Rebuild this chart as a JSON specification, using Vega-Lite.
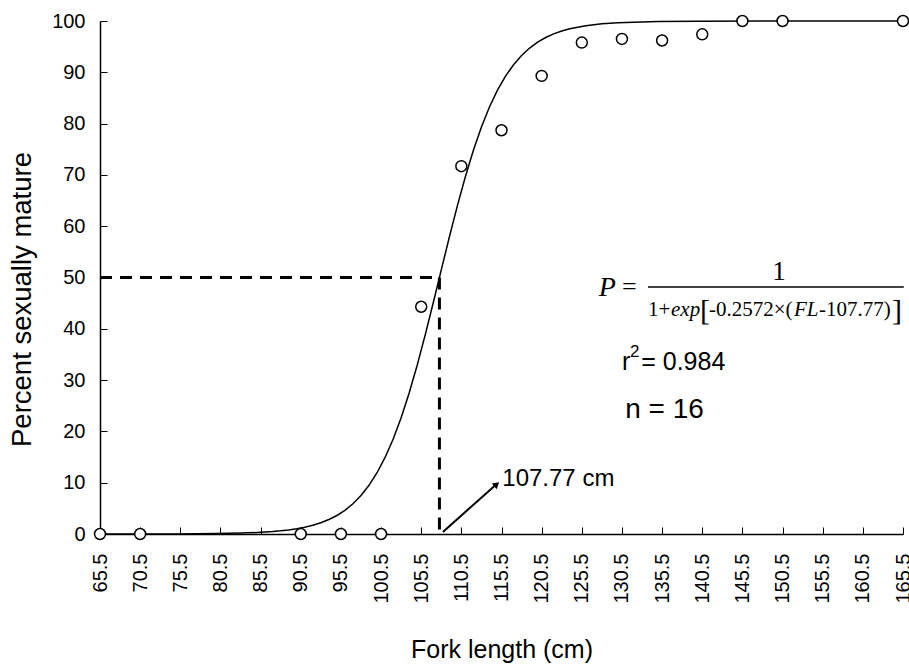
{
  "$schema": "https://vega.github.io/schema/vega-lite/v6.json",
  "autosize": "none",
  "width": 803,
  "height": 513,
  "padding": {"left": 100, "top": 21, "right": 6, "bottom": 131},
  "background": "white",
  "config": {
    "view": {"stroke": null},
    "font": "Liberation Sans",
    "axis": {
      "grid": false,
      "domainColor": "black",
      "domainWidth": 1.5,
      "tickColor": "black",
      "tickWidth": 1,
      "labelColor": "black",
      "titleColor": "black",
      "labelFont": "Liberation Sans",
      "titleFont": "Liberation Sans",
      "titleFontWeight": "normal"
    }
  },
  "datasets": {
    "obs": [
      {"fl": 65.5, "pct": 0},
      {"fl": 70.5, "pct": 0},
      {"fl": 90.5, "pct": 0},
      {"fl": 95.5, "pct": 0},
      {"fl": 100.5, "pct": 0},
      {"fl": 105.5, "pct": 44.3},
      {"fl": 110.5, "pct": 71.7},
      {"fl": 115.5, "pct": 78.7},
      {"fl": 120.5, "pct": 89.3},
      {"fl": 125.5, "pct": 95.8},
      {"fl": 130.5, "pct": 96.5},
      {"fl": 135.5, "pct": 96.2},
      {"fl": 140.5, "pct": 97.4},
      {"fl": 145.5, "pct": 100},
      {"fl": 150.5, "pct": 100},
      {"fl": 165.5, "pct": 100}
    ],
    "curve": [
      {"fl": 65.5, "pct": 0.0},
      {"fl": 70, "pct": 0.006},
      {"fl": 75, "pct": 0.022},
      {"fl": 80, "pct": 0.079},
      {"fl": 83, "pct": 0.171},
      {"fl": 85, "pct": 0.286},
      {"fl": 87, "pct": 0.476},
      {"fl": 88, "pct": 0.615},
      {"fl": 89, "pct": 0.794},
      {"fl": 90, "pct": 1.025},
      {"fl": 91, "pct": 1.32},
      {"fl": 92, "pct": 1.70},
      {"fl": 93, "pct": 2.19},
      {"fl": 94, "pct": 2.82},
      {"fl": 95, "pct": 3.61},
      {"fl": 96, "pct": 4.62},
      {"fl": 97, "pct": 5.90},
      {"fl": 98, "pct": 7.50},
      {"fl": 99, "pct": 9.49},
      {"fl": 100, "pct": 11.94},
      {"fl": 101, "pct": 14.92},
      {"fl": 102, "pct": 18.48},
      {"fl": 103, "pct": 22.67},
      {"fl": 104, "pct": 27.50},
      {"fl": 105, "pct": 32.90},
      {"fl": 106, "pct": 38.81},
      {"fl": 107, "pct": 45.07},
      {"fl": 108, "pct": 51.48},
      {"fl": 109, "pct": 57.84},
      {"fl": 110, "pct": 63.96},
      {"fl": 111, "pct": 69.65},
      {"fl": 112, "pct": 74.80},
      {"fl": 113, "pct": 79.33},
      {"fl": 114, "pct": 83.24},
      {"fl": 115, "pct": 86.53},
      {"fl": 116, "pct": 89.25},
      {"fl": 117, "pct": 91.48},
      {"fl": 118, "pct": 93.28},
      {"fl": 119, "pct": 94.73},
      {"fl": 120, "pct": 95.87},
      {"fl": 121, "pct": 96.78},
      {"fl": 122, "pct": 97.49},
      {"fl": 123, "pct": 98.05},
      {"fl": 124, "pct": 98.48},
      {"fl": 126, "pct": 99.09},
      {"fl": 128, "pct": 99.45},
      {"fl": 130, "pct": 99.67},
      {"fl": 135, "pct": 99.91},
      {"fl": 140, "pct": 99.97},
      {"fl": 150, "pct": 100.0},
      {"fl": 165.5, "pct": 100.0}
    ]
  },
  "encoding": {
    "x": {
      "type": "quantitative",
      "scale": {"domain": [65.5, 165.5], "nice": false, "zero": false},
      "axis": {
        "title": "Fork length (cm)",
        "values": [65.5, 70.5, 75.5, 80.5, 85.5, 90.5, 95.5, 100.5, 105.5, 110.5, 115.5, 120.5, 125.5, 130.5, 135.5, 140.5, 145.5, 150.5, 155.5, 160.5, 165.5],
        "format": ".1f",
        "labelAngle": -90,
        "labelFontSize": 20,
        "labelPadding": 26,
        "tickSize": -7,
        "labelFlush": false,
        "labelOverlap": false,
        "titleFontSize": 25,
        "titleY": 123,
        "titleBaseline": "alphabetic"
      }
    },
    "y": {
      "type": "quantitative",
      "scale": {"domain": [0, 100], "nice": false},
      "axis": {
        "title": "Percent sexually mature",
        "values": [0, 10, 20, 30, 40, 50, 60, 70, 80, 90, 100],
        "format": "d",
        "labelFontSize": 20,
        "labelPadding": 22,
        "tickSize": -7,
        "labelFlush": false,
        "labelOverlap": false,
        "titleFontSize": 27.5,
        "titleX": -70,
        "titleY": 278,
        "titleAngle": 270,
        "titleBaseline": "alphabetic"
      }
    }
  },
  "layer": [
    {
      "data": {"name": "curve"},
      "mark": {"type": "line", "color": "black", "strokeWidth": 1.5, "clip": false},
      "encoding": {"x": {"field": "fl"}, "y": {"field": "pct"}}
    },
    {
      "data": {"values": [{}]},
      "mark": {"type": "rule", "color": "black", "strokeWidth": 3, "strokeDash": [12, 8]},
      "encoding": {"x": {"datum": 65.5}, "x2": {"datum": 107.77}, "y": {"datum": 50}}
    },
    {
      "data": {"values": [{}]},
      "mark": {"type": "rule", "color": "black", "strokeWidth": 3, "strokeDash": [12, 8]},
      "encoding": {"x": {"datum": 107.77}, "y": {"datum": 50}, "y2": {"datum": 0}}
    },
    {
      "data": {"values": [{}]},
      "mark": {"type": "rule", "color": "black", "strokeWidth": 2},
      "encoding": {"x": {"datum": 108.2}, "y": {"datum": 0.4}, "x2": {"datum": 114.8}, "y2": {"datum": 9.6}}
    },
    {
      "data": {"values": [{}]},
      "mark": {"type": "point", "shape": "triangle-up", "filled": true, "color": "black", "size": 55, "angle": 49, "opacity": 1},
      "encoding": {"x": {"datum": 114.9}, "y": {"datum": 9.7}}
    },
    {
      "data": {"values": [{}]},
      "mark": {"type": "rule", "color": "black", "strokeWidth": 1.3},
      "encoding": {"x": {"datum": 133.75}, "x2": {"datum": 165.6}, "y": {"datum": 48.15}}
    },
    {
      "data": {"name": "obs"},
      "mark": {"type": "point", "shape": "circle", "filled": true, "fill": "white", "stroke": "black", "strokeWidth": 1.5, "size": 120, "opacity": 1, "clip": false},
      "encoding": {"x": {"field": "fl"}, "y": {"field": "pct"}}
    },
    {
      "data": {"values": [{}]},
      "mark": {"type": "text", "text": "107.77 cm", "font": "Liberation Sans", "fontSize": 24, "align": "left", "baseline": "alphabetic"},
      "encoding": {"x": {"datum": 115.6}, "y": {"datum": 9.4}}
    },
    {
      "data": {"values": [{}]},
      "mark": {"type": "text", "text": "P", "font": "Liberation Serif", "fontStyle": "italic", "fontSize": 28, "align": "left", "baseline": "alphabetic"},
      "encoding": {"x": {"datum": 127.6}, "y": {"datum": 46.4}}
    },
    {
      "data": {"values": [{}]},
      "mark": {"type": "text", "text": "=", "font": "Liberation Serif", "fontSize": 26, "align": "left", "baseline": "alphabetic"},
      "encoding": {"x": {"datum": 130.5}, "y": {"datum": 46.6}}
    },
    {
      "data": {"values": [{}]},
      "mark": {"type": "text", "text": "1", "font": "Liberation Serif", "fontSize": 27, "align": "center", "baseline": "alphabetic"},
      "encoding": {"x": {"datum": 150.05}, "y": {"datum": 49.6}}
    },
    {
      "data": {"values": [{}]},
      "mark": {"type": "text", "text": "1+", "font": "Liberation Serif", "fontSize": 21, "align": "left", "baseline": "alphabetic"},
      "encoding": {"x": {"datum": 133.74}, "y": {"datum": 42.5}}
    },
    {
      "data": {"values": [{}]},
      "mark": {"type": "text", "text": "exp", "font": "Liberation Serif", "fontStyle": "italic", "fontSize": 21, "align": "left", "baseline": "alphabetic"},
      "encoding": {"x": {"datum": 136.61}, "y": {"datum": 42.5}}
    },
    {
      "data": {"values": [{}]},
      "mark": {"type": "text", "text": "[", "font": "Liberation Serif", "fontSize": 30, "align": "left", "baseline": "alphabetic"},
      "encoding": {"x": {"datum": 140.22}, "y": {"datum": 41.8}}
    },
    {
      "data": {"values": [{}]},
      "mark": {"type": "text", "text": "-0.2572×(", "font": "Liberation Serif", "fontSize": 21, "align": "left", "baseline": "alphabetic"},
      "encoding": {"x": {"datum": 141.34}, "y": {"datum": 42.5}}
    },
    {
      "data": {"values": [{}]},
      "mark": {"type": "text", "text": "FL", "font": "Liberation Serif", "fontStyle": "italic", "fontSize": 21, "align": "left", "baseline": "alphabetic"},
      "encoding": {"x": {"datum": 151.93}, "y": {"datum": 42.5}}
    },
    {
      "data": {"values": [{}]},
      "mark": {"type": "text", "text": "-107.77)", "font": "Liberation Serif", "fontSize": 21, "align": "left", "baseline": "alphabetic"},
      "encoding": {"x": {"datum": 155.04}, "y": {"datum": 42.5}}
    },
    {
      "data": {"values": [{}]},
      "mark": {"type": "text", "text": "]", "font": "Liberation Serif", "fontSize": 30, "align": "left", "baseline": "alphabetic"},
      "encoding": {"x": {"datum": 164.13}, "y": {"datum": 41.8}}
    },
    {
      "data": {"values": [{}]},
      "mark": {"type": "text", "text": "r", "font": "Liberation Sans", "fontSize": 25, "align": "left", "baseline": "alphabetic"},
      "encoding": {"x": {"datum": 130.5}, "y": {"datum": 32.0}}
    },
    {
      "data": {"values": [{}]},
      "mark": {"type": "text", "text": "2", "font": "Liberation Sans", "fontSize": 17, "align": "left", "baseline": "alphabetic"},
      "encoding": {"x": {"datum": 131.5}, "y": {"datum": 34.5}}
    },
    {
      "data": {"values": [{}]},
      "mark": {"type": "text", "text": "= 0.984", "font": "Liberation Sans", "fontSize": 25, "align": "left", "baseline": "alphabetic"},
      "encoding": {"x": {"datum": 132.9}, "y": {"datum": 32.0}}
    },
    {
      "data": {"values": [{}]},
      "mark": {"type": "text", "text": "n = 16", "font": "Liberation Sans", "fontSize": 28, "align": "left", "baseline": "alphabetic"},
      "encoding": {"x": {"datum": 130.9}, "y": {"datum": 22.6}}
    }
  ]
}
